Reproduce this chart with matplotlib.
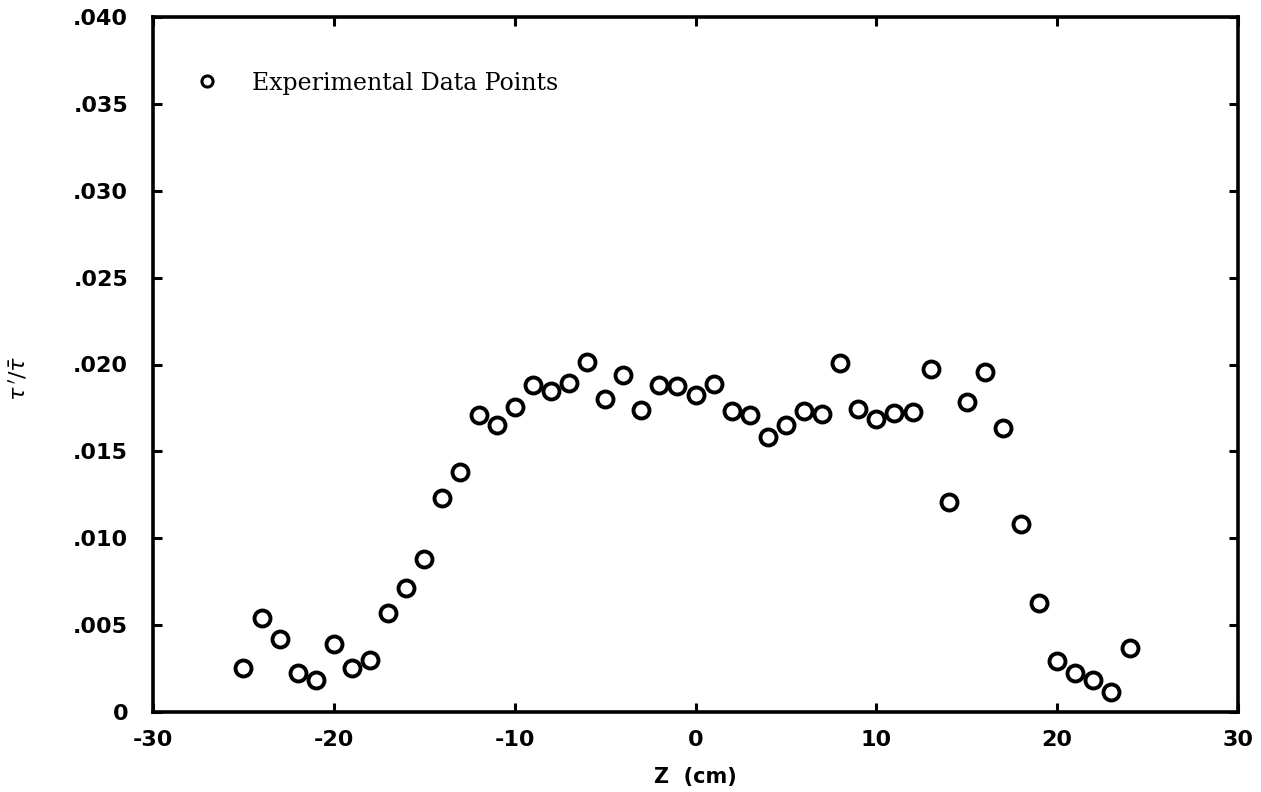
import matplotlib
matplotlib.use("Agg")
import matplotlib.pyplot as plt
from matplotlib.lines import Line2D

# ---- data ----
z_cm = list(range(-25, 25))
tau_ratio = [
    0.00254, 0.00539, 0.00419, 0.00225, 0.00186, 0.00393, 0.00256, 0.00302, 0.00572, 0.00713,
    0.00878, 0.01232, 0.01381, 0.01708, 0.01653, 0.01757, 0.01884, 0.01849, 0.01891, 0.02015,
    0.01803, 0.01940, 0.01740, 0.01880, 0.01875, 0.01825, 0.01885, 0.01730, 0.01712, 0.01582,
    0.01651, 0.01731, 0.01717, 0.02010, 0.01746, 0.01689, 0.01721, 0.01725, 0.01974, 0.01208,
    0.01782, 0.01955, 0.01632, 0.01080, 0.00627, 0.00296, 0.00223, 0.00183, 0.00116, 0.00369,
]
x_ticks = [-30, -20, -10, 0, 10, 20, 30]
x_tick_labels = ["-30", "-20", "-10", "0", "10", "20", "30"]
y_ticks = [0, 0.005, 0.010, 0.015, 0.020, 0.025, 0.030, 0.035, 0.040]
y_tick_labels = ["0", ".005", ".010", ".015", ".020", ".025", ".030", ".035", ".040"]
legend_label = "Experimental Data Points"

fig = plt.figure(figsize=(12.61, 7.92), dpi=100)
ax = fig.add_axes([153/1261, 1 - 712/792, (1238-153)/1261, (712-17)/792])

ax.plot(z_cm, tau_ratio, linestyle="none", marker="o", markersize=11.5,
        markerfacecolor="white", markeredgecolor="black", markeredgewidth=2.8)

ax.set_xlim(-30, 30)
ax.set_ylim(0, 0.040)
ax.set_xticks(x_ticks)
ax.set_xticklabels(x_tick_labels)
ax.set_yticks(y_ticks)
ax.set_yticklabels(y_tick_labels)

for s in ax.spines.values():
    s.set_linewidth(2.6)
ax.tick_params(direction="in", top=True, right=True, length=6.5, width=2.2,
               labelsize=16)
ax.tick_params(axis="y", pad=18)
ax.tick_params(axis="x", pad=13)
for lab in ax.get_xticklabels() + ax.get_yticklabels():
    lab.set_fontweight("bold")
    lab.set_family("DejaVu Sans")

ax.set_xlabel("Z  (cm)", fontsize=15, fontweight="bold", labelpad=12)
ax.set_ylabel(r"$\tau\,'/\bar{\tau}$", fontsize=16)
ax.yaxis.set_label_coords(-0.114, 0.48)

handle = Line2D([], [], linestyle="none", marker="o", markersize=8,
                markerfacecolor="white", markeredgecolor="black", markeredgewidth=2.2)
leg = ax.legend([handle], [legend_label], loc="center left",
                bbox_to_anchor=(0.039, 0.905), frameon=False, borderpad=0,
                borderaxespad=0, handlelength=1.0, handletextpad=1.4,
                prop={"family": "DejaVu Serif", "size": 17})

fig.savefig("out.png", dpi=100)
